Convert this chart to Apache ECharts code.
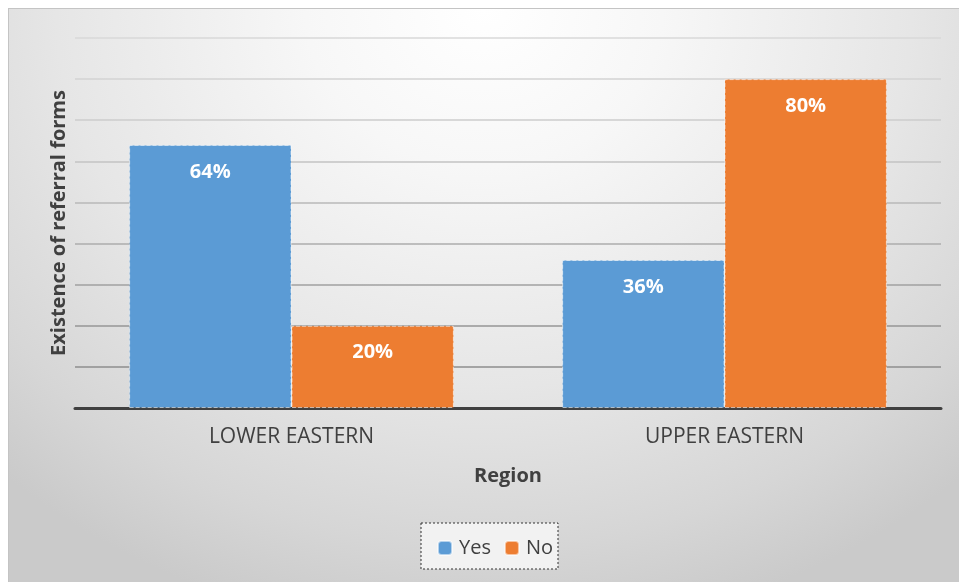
<!DOCTYPE html>
<html>
<head>
<meta charset="utf-8">
<script src="https://cdn.jsdelivr.net/npm/echarts@6/dist/echarts.min.js"></script>
<style>
  html, body { margin: 0; padding: 0; background: #ffffff; }
  #frame {
    position: absolute; left: 8px; top: 8px; width: 951px; height: 574px;
    border-top: 1px solid #c4c4c4; border-left: 1px solid #c4c4c4;
    box-sizing: border-box;
    background: radial-gradient(ellipse 75% 110% at 50% 0%, #ffffff 0%, #f7f7f7 25%, #e6e6e6 60%, #d6d6d6 85%, #cacaca 100%);
  }
  #chart { width: 100%; height: 100%; }
</style>
</head>
<body>
<div id="frame"><div id="chart"></div></div>
<script>
// Share of facilities with referral forms, by region
const regions = ['LOWER EASTERN', 'UPPER EASTERN'];
const yesValues = [64, 36];
const noValues = [20, 80];
const seriesNames = ['Yes', 'No'];
const seriesColors = ['#5b9bd5', '#ed7d31'];

// gridlines fade from darker at the base to lighter near the top
const gridLineColors = ['#404040', '#8e8e8e', '#969696', '#a0a0a0', '#acacac', '#b8b8b8',
  '#c3c3c3', '#cccccc', '#d3d3d3', '#d8d8d8'];

const FONT = '"Open Sans", sans-serif';
const chart = echarts.init(document.getElementById('chart'));

function barSeries(name, data, color) {
  return {
    name: name,
    type: 'bar',
    data: data,
    barGap: '0%',
    barCategoryGap: '25%',
    itemStyle: {
      color: color,
      borderColor: 'rgba(255,255,255,0.55)',
      borderWidth: 1,
      borderType: 'dashed'
    },
    label: {
      show: true,
      position: 'insideTop',
      distance: 17,
      formatter: '{c}%',
      color: '#ffffff',
      fontFamily: FONT,
      fontWeight: 'bold',
      fontSize: 20
    }
  };
}

chart.setOption({
  backgroundColor: 'transparent',
  animation: false,
  textStyle: { fontFamily: FONT },
  grid: { left: 66, right: 18, top: 29, bottom: 174 },
  xAxis: {
    type: 'category',
    data: regions,
    axisLine: { lineStyle: { color: '#404040', width: 3 } },
    axisTick: { show: false },
    axisLabel: { color: '#404040', fontSize: 21, fontFamily: FONT, margin: 19 },
    name: 'Region',
    nameLocation: 'middle',
    nameGap: 58,
    nameTextStyle: { color: '#404040', fontSize: 20, fontWeight: 'bold', fontFamily: FONT }
  },
  yAxis: {
    type: 'value',
    min: 0,
    max: 90,
    interval: 10,
    axisLabel: { show: false },
    axisLine: { show: false },
    axisTick: { show: false },
    splitLine: { lineStyle: { color: gridLineColors, width: 1.5 } },
    name: 'Existence of referral forms',
    nameLocation: 'middle',
    nameRotate: 90,
    nameGap: 6,
    nameTextStyle: { color: '#404040', fontSize: 20, fontWeight: 'bold', fontFamily: FONT }
  },
  legend: {
    data: seriesNames,
    left: 423,
    top: 524,
    itemWidth: 14,
    itemHeight: 14,
    itemGap: 13,
    textStyle: { color: '#404040', fontSize: 20, fontFamily: FONT, padding: [0, 0, 0, 2] }
  },
  graphic: [{
    type: 'rect',
    z: -1,
    shape: { x: 412, y: 514, width: 137, height: 46 },
    style: { fill: '#f2f2f2', stroke: '#333333', lineWidth: 1, lineDash: [2, 2] }
  }],
  series: [
    barSeries(seriesNames[0], yesValues, seriesColors[0]),
    barSeries(seriesNames[1], noValues, seriesColors[1])
  ]
});
</script>
</body>
</html>
